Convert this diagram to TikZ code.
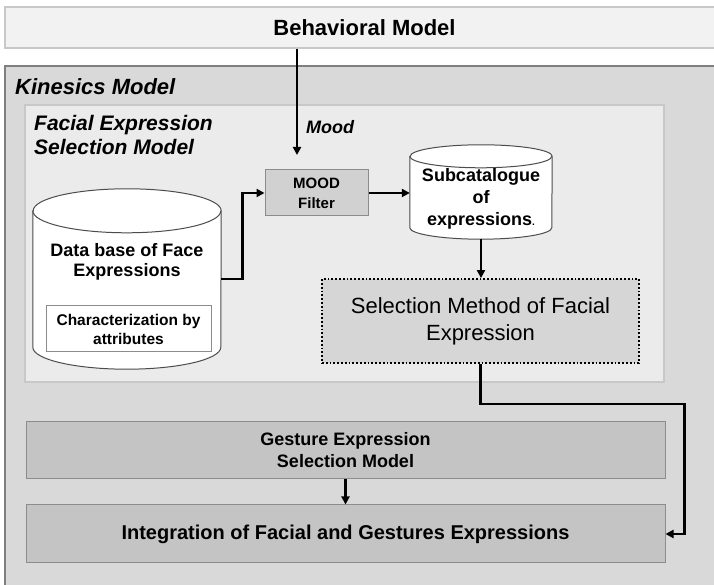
\documentclass[tikz,border=0pt]{standalone}
\usepackage{fontspec}
\setmainfont{Liberation Sans}
\usetikzlibrary{arrows.meta, positioning}

\definecolor{kinfill}{HTML}{D9D9D9}
\definecolor{kinline}{HTML}{7F7F7F}
\definecolor{facefill}{HTML}{EBEBEB}
\definecolor{faceline}{HTML}{C8C8C8}
\definecolor{boxfill}{HTML}{C4C4C4}
\definecolor{boxline}{HTML}{8C8C8C}

\begin{document}
\begin{tikzpicture}[
  x=1pt, y=1pt,
  topbox/.style = {
    rectangle, draw=faceline, fill=black!5, line width=1.5pt,
    minimum width=719pt, minimum height=41pt,
    font=\fontsize{22}{26}\selectfont\bfseries
  },
  kinbox/.style = {
    rectangle, draw=kinline, fill=kinfill, line width=2.5pt,
    minimum width=725pt, minimum height=534pt
  },
  facebox/.style = {
    rectangle, draw=faceline, fill=facefill, line width=2pt,
    minimum width=639pt, minimum height=277pt
  },
  filterbox/.style = {
    rectangle, draw=boxline, fill=black!18, line width=1pt,
    minimum width=103pt, minimum height=46pt, align=center,
    font=\fontsize{15}{20}\selectfont\bfseries
  },
  charbox/.style = {
    rectangle, draw=boxline, fill=white, line width=1pt,
    minimum width=165pt, minimum height=46pt, align=center,
    font=\fontsize{15.5}{19}\selectfont\bfseries
  },
  methodbox/.style = {
    rectangle, draw=black, fill=black!16, line width=1.8pt,
    dotted, minimum width=317pt, minimum height=84pt, align=center,
    font=\fontsize{22}{27}\selectfont
  },
  widebox/.style = {
    rectangle, draw=boxline, fill=boxfill, line width=1pt,
    minimum width=639pt, align=center
  },
  cylarea/.style = {rectangle, inner sep=0pt},
  cyl/.style = {draw=black!70, fill=white, line width=1pt},
  cyltext/.style = {align=center, inner sep=0pt},
  title/.style = {inner sep=0pt, align=left,
    font=\fontsize{21}{24}\selectfont\bfseries\itshape},
  arr/.style = {-{Triangle[length=8pt, width=8pt]}, line width=2.7pt, black}
]
\useasboundingbox (0,0) rectangle (714,585);
\clip (0,0) rectangle (714,585);
\fill[white] (0,0) rectangle (714,585);

% Outer models
\node[topbox] (behav) at (364.5,557.5) {Behavioral Model};
\node[kinbox] (kin)   at (367.5,252) {};
\node[title, anchor=west, font=\fontsize{22}{26}\selectfont\bfseries\itshape]
  (kintitle) at (15,498) {Kinesics Model};

% Facial expression selection model
\node[facebox] (face) at (344.5,341.5) {};
\node[title, anchor=west] (facetitle) at (34,450)
  {Facial Expression\\Selection Model};

% Data base cylinder
\node[cylarea, minimum width=188pt, minimum height=180pt] (db) at (127,306) {};
\draw[cyl] ([yshift=-22pt]db.north west) -- ([yshift=22pt]db.south west)
  arc[start angle=180, end angle=360, x radius=94, y radius=22]
  -- ([yshift=-22pt]db.north east)
  arc[start angle=0, end angle=180, x radius=94, y radius=22] -- cycle;
\draw[cyl, fill=none] ([yshift=-22pt]db.north west)
  arc[start angle=180, end angle=360, x radius=94, y radius=22];
\node[cyltext, font=\fontsize{18}{20}\selectfont\bfseries] (dbtext) at (127,323)
  {Data base of Face\\Expressions};
\node[charbox] (chars) at (128.5,256) {Characterization by\\attributes};

% Mood filter
\coordinate (moodin) at (297,430);
\node[title, font=\fontsize{18}{20}\selectfont\bfseries\itshape] (mood) at (330,458) {Mood};
\node[filterbox] (filter) at (316.5,392) {MOOD\\Filter};

% Subcatalogue cylinder
\node[cylarea, minimum width=142pt, minimum height=94pt] (subcat) at (481,393) {};
\draw[cyl] ([yshift=-11.5pt]subcat.north west) -- ([yshift=11.5pt]subcat.south west)
  arc[start angle=180, end angle=360, x radius=71, y radius=11.5]
  -- ([yshift=-11.5pt]subcat.north east)
  arc[start angle=0, end angle=180, x radius=71, y radius=11.5] -- cycle;
\draw[cyl, fill=none] ([yshift=-11.5pt]subcat.north west)
  arc[start angle=180, end angle=360, x radius=71, y radius=11.5];
\node[cyltext, font=\fontsize{18}{22}\selectfont\bfseries] (subtext) at (481,386)
  {Subcatalogue\\of\\expressions{\fontsize{10}{10}\selectfont.}};

% Selection method
\node[methodbox] (selm) at (480.5,264)
  {Selection Method of Facial\\Expression};

% Gesture and integration
\node[widebox, minimum height=57pt, font=\fontsize{18}{22}\selectfont\bfseries]
  (gest) at (345.5,134.5) {Gesture Expression\\Selection Model};
\node[widebox, minimum height=58pt, font=\fontsize{20}{24}\selectfont\bfseries]
  (integ) at (345.5,51) {Integration of Facial and Gestures Expressions};

% Arrows
\draw[arr] (behav.south -| moodin) -- (moodin);
\draw[arr] (db.east) -- ++(21,0) |- (filter.west);
\draw[arr] (filter.east) -- (filter.east -| subcat.west);
\draw[arr] (subcat.south) -- (subcat.south |- selm.north);
\draw[arr] (selm.south) -- ++(0,-40) -| ([xshift=19pt]integ.east) -- (integ.east);
\draw[arr] (gest) -- (integ);
\end{tikzpicture}
\end{document}
